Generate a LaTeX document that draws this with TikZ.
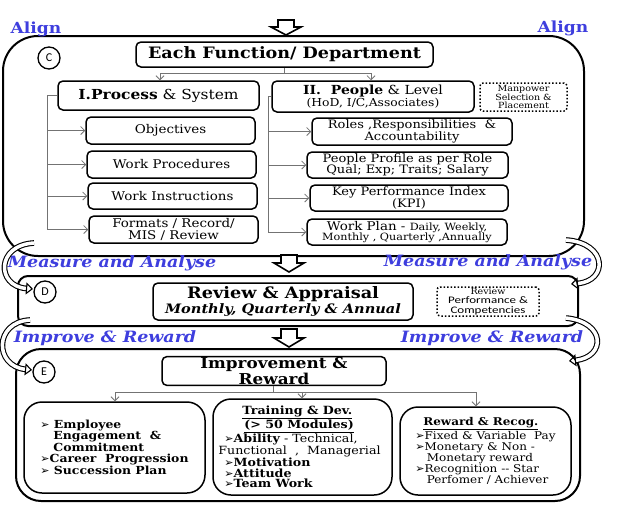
\documentclass[tikz,border=0pt]{standalone}
\usepackage{fontspec}
\setmainfont[FakeStretch=1.12]{DejaVu Serif}
\newfontfamily\symf{DejaVu Sans}
\newfontfamily\calib[FakeStretch=1.3]{Carlito}
\newfontfamily\circf{Carlito}
\usetikzlibrary{arrows.meta}
\definecolor{lblue}{RGB}{62,62,222}
\newcommand{\bl}{{\symf\fontsize{11}{10}\selectfont ➢}}
\newcommand{\fsz}[2]{\fontsize{#1}{#2}\selectfont}
\newcommand{\downarr}[4]{%
  \draw[line width=1.6pt, fill=white, line join=miter]
    (#1-8,#2) -- (#1+8,#2) -- (#1+8,#3) -- (#1+15,#3) -- (#1,#4)
    -- (#1-15,#3) -- (#1-8,#3) -- cycle;}
\tikzset{
  box/.style={draw, line width=1.5pt, rounded corners=5pt, align=center, inner sep=1pt},
  dotbox/.style={draw, line width=1.5pt, dotted, rounded corners=3pt, align=center, inner sep=1pt},
  big/.style={draw, line width=2pt},
  conn/.style={draw=black!55, line width=0.8pt, -{Straight Barb[length=4pt,width=8pt]}},
  line/.style={draw=black!55, line width=0.8pt},
  circ/.style={circle, draw, line width=1.3pt, minimum size=22pt, inner sep=0pt, font=\circf\fsz{12}{12}},
  lab/.style={text=lblue, font=\bfseries\itshape\fsz{15.6}{15.6}, inner sep=0pt},
  uturn/.style={line width=1.1pt, double=white, double distance=3.5pt, -{Triangle[open, length=7pt, width=12pt]}}
}
\begin{document}
\begin{tikzpicture}[x=1pt,y=-1pt]
\useasboundingbox (0,0) rectangle (624,504);
% ---------- section C ----------
\draw[big, rounded corners=35pt] (3,36) rectangle (584,256);
\node[text=lblue, font=\bfseries\fsz{15.3}{15.3}, inner sep=0pt] (alignL) at (36,29) {Align};
\node[text=lblue, font=\bfseries\fsz{15.3}{15.3}, inner sep=0pt] (alignR) at (563,28) {Align};
\downarr{286}{20}{27}{35}
\node[circ] (cC) at (49,58) {C};
\node[box, minimum width=297pt, minimum height=25pt, font=\bfseries\fsz{15.7}{15}] (ef) at (284.5,54.5) {Each Function/ Department};
\node[box, minimum width=201pt, minimum height=29pt, font=\fsz{13.8}{13}] (proc) at (158.5,95.5) {\textbf{I.Process} \& System};
\node[box, minimum width=202pt, minimum height=31pt, font=\fsz{12.5}{11.5}] (people) at (373,96.5) {\textbf{II.\ \ People} \& Level\\{\fsz{11}{11}(HoD, I/C,Associates)}};
\node[dotbox, minimum width=87pt, minimum height=28pt, font=\fsz{8.5}{8.3}] (manp) at (523.5,97) {Manpower\\Selection \&\\Placement};
\node[box, minimum width=169pt, minimum height=27pt, font=\fsz{12}{11}] (obj) at (170.5,130.5) {Objectives};
\node[box, minimum width=169pt, minimum height=27pt, font=\fsz{12}{11}] (wproc) at (171.5,164.5) {Work Procedures};
\node[box, minimum width=169pt, minimum height=26pt, font=\fsz{12}{11}] (winst) at (172.5,196) {Work Instructions};
\node[box, minimum width=169pt, minimum height=27pt, font=\fsz{12}{11.5}] (fmt) at (173.5,229.5) {Formats / Record/\\MIS / Review};
\node[box, minimum width=200pt, minimum height=27pt, font=\fsz{11.6}{11.5}] (roles) at (412,131.5) {Roles ,Responsibilities \ \&\\Accountability};
\node[box, minimum width=201pt, minimum height=26pt, font=\fsz{11.6}{11.5}] (prof) at (407.5,165) {People Profile as per Role\\Qual; Exp; Traits; Salary};
\node[box, minimum width=198pt, minimum height=26pt, font=\fsz{11.6}{11.5}] (kpi) at (409,198) {Key Performance Index\\(KPI)};
\node[box, minimum width=200pt, minimum height=26pt, font=\fsz{12}{10.5}] (wplan) at (407,232) {Work Plan - {\fsz{10}{10}Daily, Weekly,}\\{\fsz{10}{10}Monthly , Quarterly ,Annually}};
% connectors
\coordinate (ej) at (284,73);
\draw[line] (ef.south -| ej) -- (ej);
\draw[conn] (ej) -| (proc.north -| 160,0);
\draw[conn] (ej) -| (people.north -| 371,0);
\coordinate (lt) at (47,230);
\draw[line] (proc.west) -| (lt);
\foreach \n in {obj,wproc,winst,fmt} \draw[conn] (\n.west -| lt) -- (\n.west);
\coordinate (rt) at (268,232);
\draw[line] (people.west) -| (rt);
\foreach \n in {roles,prof,kpi,wplan} \draw[conn] (\n.west -| rt) -- (\n.west);
% ---------- section D ----------
\node[lab] (maL) at (112,263) {Measure and Analyse};
\node[lab] (maR) at (488,262) {Measure and Analyse};
\downarr{289}{255}{263}{272}
\draw[big, rounded corners=10pt] (18,276) rectangle (578,326);
\node[circ] (cD) at (45,292) {D};
\node[box, minimum width=260pt, minimum height=37pt] (ra) at (283,301.5) {{\bfseries\fsz{15.8}{14}Review \& Appraisal}\\{\bfseries\itshape\fsz{13}{13}Monthly, Quarterly \& Annual}};
\node[dotbox, minimum width=102pt, minimum height=29pt, font=\calib\fsz{10}{9.3}] (rev) at (488,301.5) {{\rmfamily\fsz{8.5}{8.5}Review}\\Performance \&\\Competencies};
% ---------- section E ----------
\node[lab] (irL) at (105,338) {Improve \& Reward};
\node[lab] (irR) at (492,338) {Improve \& Reward};
\downarr{289}{329}{338}{347}
\draw[big, rounded corners=25pt] (16,349) rectangle (580,501);
\node[circ] (cE) at (44,372) {E};
\node[box, minimum width=224pt, minimum height=28pt, font=\bfseries\fsz{15}{13}] (impr) at (274,371) {Improvement \&\\Reward};
\node[box, rounded corners=18pt, minimum width=181pt, minimum height=91pt, font=\bfseries\fsz{11.1}{10.8}, align=left] (emp) at (114.5,447.5) {\bl\ Employee\\\ \ \ Engagement \ \&\\\ \ \ Commitment\\\bl Career \ Progression\\\bl\ Succession Plan};
\node[box, rounded corners=18pt, minimum width=179pt, minimum height=96pt, font=\fsz{11.3}{10.7}, align=left] (train) at (302.5,447) {\hspace*{18pt}\textbf{\underline{Training \& Dev.}}\\\hspace*{20pt}\textbf{\underline{(> 50 Modules)}}\\\bl\textbf{Ability} - Technical,\\\hspace*{-6pt}Functional \ , \ Managerial\\\bl\textbf{Motivation}\\\bl\textbf{Attitude}\\\bl\textbf{Team Work}};
\node[box, rounded corners=18pt, minimum width=171pt, minimum height=88pt, font=\fsz{10.7}{11}, align=left] (rew) at (485.5,451) {\hspace*{8pt}\textbf{\underline{Reward \& Recog.}}\\\bl Fixed \& Variable \ Pay\\\bl Monetary \& Non -\\\ \ \ Monetary reward\\\bl Recognition -{}- Star\\\ \ \ Perfomer / Achiever};
\coordinate (ij) at (273,392);
\draw[line] (impr.south -| ij) -- (ij);
\draw[conn] (ij) -| (emp.north -| 115,0);
\draw[conn] (ij) -| (train.north -| 302,0);
\draw[conn] (ij) -| (rew.north -| 476,0);
% ---------- U-turn arrows ----------
\draw[uturn] (34,243) .. controls (-4,245) and (-4,286) .. (33,289);
\draw[uturn] (566,240) .. controls (608,243) and (608,281) .. (571,284);
\draw[uturn] (30,320) .. controls (-6,322) and (-6,366) .. (32,370);
\draw[uturn] (566,318) .. controls (606,322) and (606,357) .. (569,361);
\end{tikzpicture}
\end{document}
